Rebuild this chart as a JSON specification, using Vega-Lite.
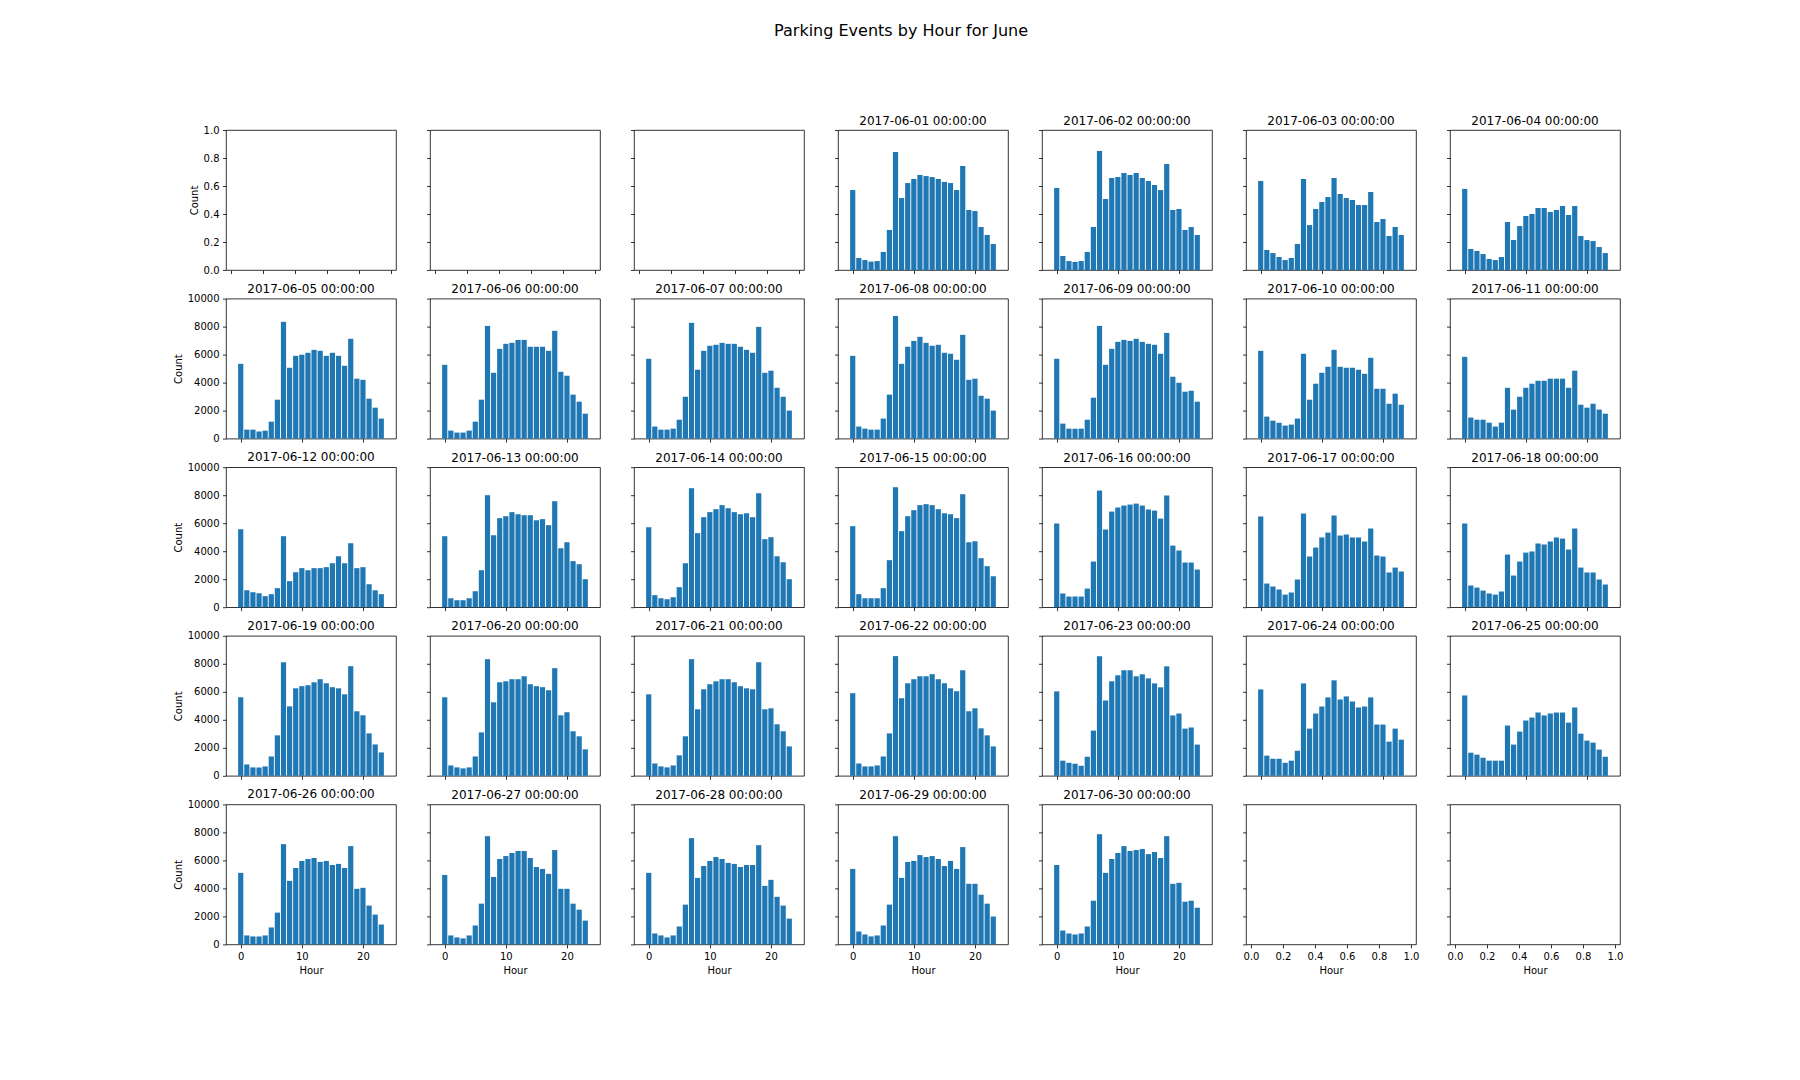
{
"$schema": "https://vega.github.io/schema/vega-lite/v6.json",
"background": "white",
"padding": {"left": 172, "top": 22, "right": 10, "bottom": 10},
"title": {"text": "Parking Events by Hour for June", "fontSize": 16, "font": "DejaVu Sans", "fontWeight": "normal", "color": "black", "anchor": "middle", "offset": 62.5, "baseline": "alphabetic", "dx": 3},
"datasets": {"parking": [
{"date":"2017-06-01","hour":0,"count":0.571},{"date":"2017-06-01","hour":1,"count":0.086},{"date":"2017-06-01","hour":2,"count":0.071},{"date":"2017-06-01","hour":3,"count":0.060},{"date":"2017-06-01","hour":4,"count":0.064},{"date":"2017-06-01","hour":5,"count":0.129},{"date":"2017-06-01","hour":6,"count":0.286},{"date":"2017-06-01","hour":7,"count":0.843},{"date":"2017-06-01","hour":8,"count":0.514},{"date":"2017-06-01","hour":9,"count":0.621},{"date":"2017-06-01","hour":10,"count":0.650},{"date":"2017-06-01","hour":11,"count":0.679},{"date":"2017-06-01","hour":12,"count":0.671},{"date":"2017-06-01","hour":13,"count":0.664},{"date":"2017-06-01","hour":14,"count":0.650},{"date":"2017-06-01","hour":15,"count":0.629},{"date":"2017-06-01","hour":16,"count":0.621},{"date":"2017-06-01","hour":17,"count":0.571},{"date":"2017-06-01","hour":18,"count":0.743},{"date":"2017-06-01","hour":19,"count":0.429},{"date":"2017-06-01","hour":20,"count":0.421},{"date":"2017-06-01","hour":21,"count":0.307},{"date":"2017-06-01","hour":22,"count":0.250},{"date":"2017-06-01","hour":23,"count":0.186},
{"date":"2017-06-02","hour":0,"count":0.586},{"date":"2017-06-02","hour":1,"count":0.100},{"date":"2017-06-02","hour":2,"count":0.064},{"date":"2017-06-02","hour":3,"count":0.057},{"date":"2017-06-02","hour":4,"count":0.064},{"date":"2017-06-02","hour":5,"count":0.129},{"date":"2017-06-02","hour":6,"count":0.307},{"date":"2017-06-02","hour":7,"count":0.850},{"date":"2017-06-02","hour":8,"count":0.507},{"date":"2017-06-02","hour":9,"count":0.657},{"date":"2017-06-02","hour":10,"count":0.664},{"date":"2017-06-02","hour":11,"count":0.693},{"date":"2017-06-02","hour":12,"count":0.679},{"date":"2017-06-02","hour":13,"count":0.693},{"date":"2017-06-02","hour":14,"count":0.657},{"date":"2017-06-02","hour":15,"count":0.636},{"date":"2017-06-02","hour":16,"count":0.607},{"date":"2017-06-02","hour":17,"count":0.571},{"date":"2017-06-02","hour":18,"count":0.757},{"date":"2017-06-02","hour":19,"count":0.429},{"date":"2017-06-02","hour":20,"count":0.436},{"date":"2017-06-02","hour":21,"count":0.286},{"date":"2017-06-02","hour":22,"count":0.307},{"date":"2017-06-02","hour":23,"count":0.250},
{"date":"2017-06-03","hour":0,"count":0.636},{"date":"2017-06-03","hour":1,"count":0.143},{"date":"2017-06-03","hour":2,"count":0.121},{"date":"2017-06-03","hour":3,"count":0.093},{"date":"2017-06-03","hour":4,"count":0.071},{"date":"2017-06-03","hour":5,"count":0.086},{"date":"2017-06-03","hour":6,"count":0.186},{"date":"2017-06-03","hour":7,"count":0.650},{"date":"2017-06-03","hour":8,"count":0.321},{"date":"2017-06-03","hour":9,"count":0.436},{"date":"2017-06-03","hour":10,"count":0.486},{"date":"2017-06-03","hour":11,"count":0.521},{"date":"2017-06-03","hour":12,"count":0.657},{"date":"2017-06-03","hour":13,"count":0.543},{"date":"2017-06-03","hour":14,"count":0.514},{"date":"2017-06-03","hour":15,"count":0.500},{"date":"2017-06-03","hour":16,"count":0.464},{"date":"2017-06-03","hour":17,"count":0.464},{"date":"2017-06-03","hour":18,"count":0.557},{"date":"2017-06-03","hour":19,"count":0.343},{"date":"2017-06-03","hour":20,"count":0.364},{"date":"2017-06-03","hour":21,"count":0.243},{"date":"2017-06-03","hour":22,"count":0.307},{"date":"2017-06-03","hour":23,"count":0.250},
{"date":"2017-06-04","hour":0,"count":0.579},{"date":"2017-06-04","hour":1,"count":0.150},{"date":"2017-06-04","hour":2,"count":0.136},{"date":"2017-06-04","hour":3,"count":0.114},{"date":"2017-06-04","hour":4,"count":0.079},{"date":"2017-06-04","hour":5,"count":0.071},{"date":"2017-06-04","hour":6,"count":0.093},{"date":"2017-06-04","hour":7,"count":0.343},{"date":"2017-06-04","hour":8,"count":0.214},{"date":"2017-06-04","hour":9,"count":0.314},{"date":"2017-06-04","hour":10,"count":0.386},{"date":"2017-06-04","hour":11,"count":0.400},{"date":"2017-06-04","hour":12,"count":0.443},{"date":"2017-06-04","hour":13,"count":0.443},{"date":"2017-06-04","hour":14,"count":0.414},{"date":"2017-06-04","hour":15,"count":0.429},{"date":"2017-06-04","hour":16,"count":0.457},{"date":"2017-06-04","hour":17,"count":0.393},{"date":"2017-06-04","hour":18,"count":0.457},{"date":"2017-06-04","hour":19,"count":0.243},{"date":"2017-06-04","hour":20,"count":0.214},{"date":"2017-06-04","hour":21,"count":0.207},{"date":"2017-06-04","hour":22,"count":0.164},{"date":"2017-06-04","hour":23,"count":0.121},
{"date":"2017-06-05","hour":0,"count":5340},{"date":"2017-06-05","hour":1,"count":640},{"date":"2017-06-05","hour":2,"count":640},{"date":"2017-06-05","hour":3,"count":500},{"date":"2017-06-05","hour":4,"count":570},{"date":"2017-06-05","hour":5,"count":1210},{"date":"2017-06-05","hour":6,"count":2780},{"date":"2017-06-05","hour":7,"count":8340},{"date":"2017-06-05","hour":8,"count":5060},{"date":"2017-06-05","hour":9,"count":5910},{"date":"2017-06-05","hour":10,"count":5990},{"date":"2017-06-05","hour":11,"count":6130},{"date":"2017-06-05","hour":12,"count":6340},{"date":"2017-06-05","hour":13,"count":6270},{"date":"2017-06-05","hour":14,"count":5910},{"date":"2017-06-05","hour":15,"count":6130},{"date":"2017-06-05","hour":16,"count":5910},{"date":"2017-06-05","hour":17,"count":5200},{"date":"2017-06-05","hour":18,"count":7130},{"date":"2017-06-05","hour":19,"count":4280},{"date":"2017-06-05","hour":20,"count":4200},{"date":"2017-06-05","hour":21,"count":2850},{"date":"2017-06-05","hour":22,"count":2210},{"date":"2017-06-05","hour":23,"count":1430},
{"date":"2017-06-06","hour":0,"count":5270},{"date":"2017-06-06","hour":1,"count":570},{"date":"2017-06-06","hour":2,"count":430},{"date":"2017-06-06","hour":3,"count":430},{"date":"2017-06-06","hour":4,"count":570},{"date":"2017-06-06","hour":5,"count":1210},{"date":"2017-06-06","hour":6,"count":2780},{"date":"2017-06-06","hour":7,"count":8050},{"date":"2017-06-06","hour":8,"count":4700},{"date":"2017-06-06","hour":9,"count":6410},{"date":"2017-06-06","hour":10,"count":6770},{"date":"2017-06-06","hour":11,"count":6840},{"date":"2017-06-06","hour":12,"count":7050},{"date":"2017-06-06","hour":13,"count":7050},{"date":"2017-06-06","hour":14,"count":6560},{"date":"2017-06-06","hour":15,"count":6560},{"date":"2017-06-06","hour":16,"count":6560},{"date":"2017-06-06","hour":17,"count":6270},{"date":"2017-06-06","hour":18,"count":7700},{"date":"2017-06-06","hour":19,"count":4770},{"date":"2017-06-06","hour":20,"count":4490},{"date":"2017-06-06","hour":21,"count":3140},{"date":"2017-06-06","hour":22,"count":2640},{"date":"2017-06-06","hour":23,"count":1780},
{"date":"2017-06-07","hour":0,"count":5700},{"date":"2017-06-07","hour":1,"count":860},{"date":"2017-06-07","hour":2,"count":640},{"date":"2017-06-07","hour":3,"count":640},{"date":"2017-06-07","hour":4,"count":710},{"date":"2017-06-07","hour":5,"count":1350},{"date":"2017-06-07","hour":6,"count":2990},{"date":"2017-06-07","hour":7,"count":8270},{"date":"2017-06-07","hour":8,"count":4920},{"date":"2017-06-07","hour":9,"count":6270},{"date":"2017-06-07","hour":10,"count":6630},{"date":"2017-06-07","hour":11,"count":6700},{"date":"2017-06-07","hour":12,"count":6840},{"date":"2017-06-07","hour":13,"count":6770},{"date":"2017-06-07","hour":14,"count":6770},{"date":"2017-06-07","hour":15,"count":6560},{"date":"2017-06-07","hour":16,"count":6340},{"date":"2017-06-07","hour":17,"count":6130},{"date":"2017-06-07","hour":18,"count":7980},{"date":"2017-06-07","hour":19,"count":4700},{"date":"2017-06-07","hour":20,"count":4850},{"date":"2017-06-07","hour":21,"count":3630},{"date":"2017-06-07","hour":22,"count":2990},{"date":"2017-06-07","hour":23,"count":2000},
{"date":"2017-06-08","hour":0,"count":5910},{"date":"2017-06-08","hour":1,"count":860},{"date":"2017-06-08","hour":2,"count":710},{"date":"2017-06-08","hour":3,"count":640},{"date":"2017-06-08","hour":4,"count":640},{"date":"2017-06-08","hour":5,"count":1430},{"date":"2017-06-08","hour":6,"count":3140},{"date":"2017-06-08","hour":7,"count":8760},{"date":"2017-06-08","hour":8,"count":5340},{"date":"2017-06-08","hour":9,"count":6560},{"date":"2017-06-08","hour":10,"count":6980},{"date":"2017-06-08","hour":11,"count":7270},{"date":"2017-06-08","hour":12,"count":6840},{"date":"2017-06-08","hour":13,"count":6630},{"date":"2017-06-08","hour":14,"count":6700},{"date":"2017-06-08","hour":15,"count":6130},{"date":"2017-06-08","hour":16,"count":6060},{"date":"2017-06-08","hour":17,"count":5630},{"date":"2017-06-08","hour":18,"count":7410},{"date":"2017-06-08","hour":19,"count":4200},{"date":"2017-06-08","hour":20,"count":4280},{"date":"2017-06-08","hour":21,"count":3060},{"date":"2017-06-08","hour":22,"count":2850},{"date":"2017-06-08","hour":23,"count":2000},
{"date":"2017-06-09","hour":0,"count":5700},{"date":"2017-06-09","hour":1,"count":1070},{"date":"2017-06-09","hour":2,"count":710},{"date":"2017-06-09","hour":3,"count":710},{"date":"2017-06-09","hour":4,"count":710},{"date":"2017-06-09","hour":5,"count":1350},{"date":"2017-06-09","hour":6,"count":2920},{"date":"2017-06-09","hour":7,"count":8050},{"date":"2017-06-09","hour":8,"count":5270},{"date":"2017-06-09","hour":9,"count":6410},{"date":"2017-06-09","hour":10,"count":6910},{"date":"2017-06-09","hour":11,"count":7050},{"date":"2017-06-09","hour":12,"count":6980},{"date":"2017-06-09","hour":13,"count":7130},{"date":"2017-06-09","hour":14,"count":6910},{"date":"2017-06-09","hour":15,"count":6770},{"date":"2017-06-09","hour":16,"count":6700},{"date":"2017-06-09","hour":17,"count":6060},{"date":"2017-06-09","hour":18,"count":7550},{"date":"2017-06-09","hour":19,"count":4420},{"date":"2017-06-09","hour":20,"count":3990},{"date":"2017-06-09","hour":21,"count":3350},{"date":"2017-06-09","hour":22,"count":3420},{"date":"2017-06-09","hour":23,"count":2640},
{"date":"2017-06-10","hour":0,"count":6270},{"date":"2017-06-10","hour":1,"count":1570},{"date":"2017-06-10","hour":2,"count":1280},{"date":"2017-06-10","hour":3,"count":1140},{"date":"2017-06-10","hour":4,"count":930},{"date":"2017-06-10","hour":5,"count":1000},{"date":"2017-06-10","hour":6,"count":1430},{"date":"2017-06-10","hour":7,"count":6060},{"date":"2017-06-10","hour":8,"count":2780},{"date":"2017-06-10","hour":9,"count":3920},{"date":"2017-06-10","hour":10,"count":4700},{"date":"2017-06-10","hour":11,"count":5130},{"date":"2017-06-10","hour":12,"count":6340},{"date":"2017-06-10","hour":13,"count":5130},{"date":"2017-06-10","hour":14,"count":5060},{"date":"2017-06-10","hour":15,"count":5060},{"date":"2017-06-10","hour":16,"count":4920},{"date":"2017-06-10","hour":17,"count":4630},{"date":"2017-06-10","hour":18,"count":5770},{"date":"2017-06-10","hour":19,"count":3560},{"date":"2017-06-10","hour":20,"count":3560},{"date":"2017-06-10","hour":21,"count":2490},{"date":"2017-06-10","hour":22,"count":3210},{"date":"2017-06-10","hour":23,"count":2420},
{"date":"2017-06-11","hour":0,"count":5840},{"date":"2017-06-11","hour":1,"count":1500},{"date":"2017-06-11","hour":2,"count":1350},{"date":"2017-06-11","hour":3,"count":1350},{"date":"2017-06-11","hour":4,"count":1140},{"date":"2017-06-11","hour":5,"count":860},{"date":"2017-06-11","hour":6,"count":1140},{"date":"2017-06-11","hour":7,"count":3630},{"date":"2017-06-11","hour":8,"count":2070},{"date":"2017-06-11","hour":9,"count":2990},{"date":"2017-06-11","hour":10,"count":3630},{"date":"2017-06-11","hour":11,"count":3920},{"date":"2017-06-11","hour":12,"count":4130},{"date":"2017-06-11","hour":13,"count":4130},{"date":"2017-06-11","hour":14,"count":4280},{"date":"2017-06-11","hour":15,"count":4280},{"date":"2017-06-11","hour":16,"count":4280},{"date":"2017-06-11","hour":17,"count":3630},{"date":"2017-06-11","hour":18,"count":4850},{"date":"2017-06-11","hour":19,"count":2420},{"date":"2017-06-11","hour":20,"count":2210},{"date":"2017-06-11","hour":21,"count":2490},{"date":"2017-06-11","hour":22,"count":2070},{"date":"2017-06-11","hour":23,"count":1780},
{"date":"2017-06-12","hour":0,"count":5570},{"date":"2017-06-12","hour":1,"count":1210},{"date":"2017-06-12","hour":2,"count":1070},{"date":"2017-06-12","hour":3,"count":1000},{"date":"2017-06-12","hour":4,"count":790},{"date":"2017-06-12","hour":5,"count":930},{"date":"2017-06-12","hour":6,"count":1360},{"date":"2017-06-12","hour":7,"count":5070},{"date":"2017-06-12","hour":8,"count":1860},{"date":"2017-06-12","hour":9,"count":2500},{"date":"2017-06-12","hour":10,"count":2790},{"date":"2017-06-12","hour":11,"count":2640},{"date":"2017-06-12","hour":12,"count":2790},{"date":"2017-06-12","hour":13,"count":2790},{"date":"2017-06-12","hour":14,"count":2860},{"date":"2017-06-12","hour":15,"count":3140},{"date":"2017-06-12","hour":16,"count":3640},{"date":"2017-06-12","hour":17,"count":3140},{"date":"2017-06-12","hour":18,"count":4570},{"date":"2017-06-12","hour":19,"count":2790},{"date":"2017-06-12","hour":20,"count":2860},{"date":"2017-06-12","hour":21,"count":1640},{"date":"2017-06-12","hour":22,"count":1210},{"date":"2017-06-12","hour":23,"count":930},
{"date":"2017-06-13","hour":0,"count":5070},{"date":"2017-06-13","hour":1,"count":640},{"date":"2017-06-13","hour":2,"count":500},{"date":"2017-06-13","hour":3,"count":500},{"date":"2017-06-13","hour":4,"count":640},{"date":"2017-06-13","hour":5,"count":1140},{"date":"2017-06-13","hour":6,"count":2640},{"date":"2017-06-13","hour":7,"count":8000},{"date":"2017-06-13","hour":8,"count":5140},{"date":"2017-06-13","hour":9,"count":6360},{"date":"2017-06-13","hour":10,"count":6500},{"date":"2017-06-13","hour":11,"count":6790},{"date":"2017-06-13","hour":12,"count":6640},{"date":"2017-06-13","hour":13,"count":6570},{"date":"2017-06-13","hour":14,"count":6570},{"date":"2017-06-13","hour":15,"count":6210},{"date":"2017-06-13","hour":16,"count":6290},{"date":"2017-06-13","hour":17,"count":5860},{"date":"2017-06-13","hour":18,"count":7570},{"date":"2017-06-13","hour":19,"count":4210},{"date":"2017-06-13","hour":20,"count":4640},{"date":"2017-06-13","hour":21,"count":3290},{"date":"2017-06-13","hour":22,"count":3070},{"date":"2017-06-13","hour":23,"count":2000},
{"date":"2017-06-14","hour":0,"count":5710},{"date":"2017-06-14","hour":1,"count":860},{"date":"2017-06-14","hour":2,"count":640},{"date":"2017-06-14","hour":3,"count":570},{"date":"2017-06-14","hour":4,"count":710},{"date":"2017-06-14","hour":5,"count":1430},{"date":"2017-06-14","hour":6,"count":3140},{"date":"2017-06-14","hour":7,"count":8500},{"date":"2017-06-14","hour":8,"count":5290},{"date":"2017-06-14","hour":9,"count":6430},{"date":"2017-06-14","hour":10,"count":6790},{"date":"2017-06-14","hour":11,"count":7000},{"date":"2017-06-14","hour":12,"count":7290},{"date":"2017-06-14","hour":13,"count":7070},{"date":"2017-06-14","hour":14,"count":6790},{"date":"2017-06-14","hour":15,"count":6640},{"date":"2017-06-14","hour":16,"count":6710},{"date":"2017-06-14","hour":17,"count":6430},{"date":"2017-06-14","hour":18,"count":8140},{"date":"2017-06-14","hour":19,"count":4860},{"date":"2017-06-14","hour":20,"count":5000},{"date":"2017-06-14","hour":21,"count":3640},{"date":"2017-06-14","hour":22,"count":3210},{"date":"2017-06-14","hour":23,"count":2000},
{"date":"2017-06-15","hour":0,"count":5790},{"date":"2017-06-15","hour":1,"count":930},{"date":"2017-06-15","hour":2,"count":640},{"date":"2017-06-15","hour":3,"count":640},{"date":"2017-06-15","hour":4,"count":640},{"date":"2017-06-15","hour":5,"count":1360},{"date":"2017-06-15","hour":6,"count":3360},{"date":"2017-06-15","hour":7,"count":8570},{"date":"2017-06-15","hour":8,"count":5430},{"date":"2017-06-15","hour":9,"count":6500},{"date":"2017-06-15","hour":10,"count":6930},{"date":"2017-06-15","hour":11,"count":7290},{"date":"2017-06-15","hour":12,"count":7360},{"date":"2017-06-15","hour":13,"count":7290},{"date":"2017-06-15","hour":14,"count":7000},{"date":"2017-06-15","hour":15,"count":6710},{"date":"2017-06-15","hour":16,"count":6640},{"date":"2017-06-15","hour":17,"count":6360},{"date":"2017-06-15","hour":18,"count":8070},{"date":"2017-06-15","hour":19,"count":4640},{"date":"2017-06-15","hour":20,"count":4710},{"date":"2017-06-15","hour":21,"count":3500},{"date":"2017-06-15","hour":22,"count":2930},{"date":"2017-06-15","hour":23,"count":2210},
{"date":"2017-06-16","hour":0,"count":5980},{"date":"2017-06-16","hour":1,"count":980},{"date":"2017-06-16","hour":2,"count":760},{"date":"2017-06-16","hour":3,"count":760},{"date":"2017-06-16","hour":4,"count":760},{"date":"2017-06-16","hour":5,"count":1330},{"date":"2017-06-16","hour":6,"count":3260},{"date":"2017-06-16","hour":7,"count":8330},{"date":"2017-06-16","hour":8,"count":5550},{"date":"2017-06-16","hour":9,"count":6830},{"date":"2017-06-16","hour":10,"count":7120},{"date":"2017-06-16","hour":11,"count":7260},{"date":"2017-06-16","hour":12,"count":7330},{"date":"2017-06-16","hour":13,"count":7400},{"date":"2017-06-16","hour":14,"count":7260},{"date":"2017-06-16","hour":15,"count":6980},{"date":"2017-06-16","hour":16,"count":6900},{"date":"2017-06-16","hour":17,"count":6330},{"date":"2017-06-16","hour":18,"count":7980},{"date":"2017-06-16","hour":19,"count":4400},{"date":"2017-06-16","hour":20,"count":4050},{"date":"2017-06-16","hour":21,"count":3190},{"date":"2017-06-16","hour":22,"count":3190},{"date":"2017-06-16","hour":23,"count":2690},
{"date":"2017-06-17","hour":0,"count":6480},{"date":"2017-06-17","hour":1,"count":1690},{"date":"2017-06-17","hour":2,"count":1480},{"date":"2017-06-17","hour":3,"count":1260},{"date":"2017-06-17","hour":4,"count":900},{"date":"2017-06-17","hour":5,"count":1050},{"date":"2017-06-17","hour":6,"count":1980},{"date":"2017-06-17","hour":7,"count":6690},{"date":"2017-06-17","hour":8,"count":3620},{"date":"2017-06-17","hour":9,"count":4260},{"date":"2017-06-17","hour":10,"count":4980},{"date":"2017-06-17","hour":11,"count":5330},{"date":"2017-06-17","hour":12,"count":6550},{"date":"2017-06-17","hour":13,"count":5120},{"date":"2017-06-17","hour":14,"count":5190},{"date":"2017-06-17","hour":15,"count":4980},{"date":"2017-06-17","hour":16,"count":4980},{"date":"2017-06-17","hour":17,"count":4690},{"date":"2017-06-17","hour":18,"count":5620},{"date":"2017-06-17","hour":19,"count":3690},{"date":"2017-06-17","hour":20,"count":3620},{"date":"2017-06-17","hour":21,"count":2480},{"date":"2017-06-17","hour":22,"count":2830},{"date":"2017-06-17","hour":23,"count":2550},
{"date":"2017-06-18","hour":0,"count":5980},{"date":"2017-06-18","hour":1,"count":1550},{"date":"2017-06-18","hour":2,"count":1400},{"date":"2017-06-18","hour":3,"count":1190},{"date":"2017-06-18","hour":4,"count":980},{"date":"2017-06-18","hour":5,"count":900},{"date":"2017-06-18","hour":6,"count":1120},{"date":"2017-06-18","hour":7,"count":3760},{"date":"2017-06-18","hour":8,"count":2260},{"date":"2017-06-18","hour":9,"count":3260},{"date":"2017-06-18","hour":10,"count":3900},{"date":"2017-06-18","hour":11,"count":3980},{"date":"2017-06-18","hour":12,"count":4550},{"date":"2017-06-18","hour":13,"count":4480},{"date":"2017-06-18","hour":14,"count":4690},{"date":"2017-06-18","hour":15,"count":4980},{"date":"2017-06-18","hour":16,"count":4900},{"date":"2017-06-18","hour":17,"count":4120},{"date":"2017-06-18","hour":18,"count":5620},{"date":"2017-06-18","hour":19,"count":2830},{"date":"2017-06-18","hour":20,"count":2480},{"date":"2017-06-18","hour":21,"count":2480},{"date":"2017-06-18","hour":22,"count":1980},{"date":"2017-06-18","hour":23,"count":1620},
{"date":"2017-06-19","hour":0,"count":5610},{"date":"2017-06-19","hour":1,"count":810},{"date":"2017-06-19","hour":2,"count":600},{"date":"2017-06-19","hour":3,"count":600},{"date":"2017-06-19","hour":4,"count":670},{"date":"2017-06-19","hour":5,"count":1380},{"date":"2017-06-19","hour":6,"count":2890},{"date":"2017-06-19","hour":7,"count":8110},{"date":"2017-06-19","hour":8,"count":4960},{"date":"2017-06-19","hour":9,"count":6250},{"date":"2017-06-19","hour":10,"count":6400},{"date":"2017-06-19","hour":11,"count":6470},{"date":"2017-06-19","hour":12,"count":6680},{"date":"2017-06-19","hour":13,"count":6900},{"date":"2017-06-19","hour":14,"count":6610},{"date":"2017-06-19","hour":15,"count":6330},{"date":"2017-06-19","hour":16,"count":6250},{"date":"2017-06-19","hour":17,"count":5820},{"date":"2017-06-19","hour":18,"count":7830},{"date":"2017-06-19","hour":19,"count":4610},{"date":"2017-06-19","hour":20,"count":4320},{"date":"2017-06-19","hour":21,"count":3030},{"date":"2017-06-19","hour":22,"count":2240},{"date":"2017-06-19","hour":23,"count":1670},
{"date":"2017-06-20","hour":0,"count":5610},{"date":"2017-06-20","hour":1,"count":740},{"date":"2017-06-20","hour":2,"count":600},{"date":"2017-06-20","hour":3,"count":530},{"date":"2017-06-20","hour":4,"count":600},{"date":"2017-06-20","hour":5,"count":1380},{"date":"2017-06-20","hour":6,"count":3100},{"date":"2017-06-20","hour":7,"count":8330},{"date":"2017-06-20","hour":8,"count":5250},{"date":"2017-06-20","hour":9,"count":6680},{"date":"2017-06-20","hour":10,"count":6750},{"date":"2017-06-20","hour":11,"count":6900},{"date":"2017-06-20","hour":12,"count":6900},{"date":"2017-06-20","hour":13,"count":7110},{"date":"2017-06-20","hour":14,"count":6540},{"date":"2017-06-20","hour":15,"count":6400},{"date":"2017-06-20","hour":16,"count":6330},{"date":"2017-06-20","hour":17,"count":6110},{"date":"2017-06-20","hour":18,"count":7690},{"date":"2017-06-20","hour":19,"count":4320},{"date":"2017-06-20","hour":20,"count":4540},{"date":"2017-06-20","hour":21,"count":3180},{"date":"2017-06-20","hour":22,"count":2820},{"date":"2017-06-20","hour":23,"count":1890},
{"date":"2017-06-21","hour":0,"count":5820},{"date":"2017-06-21","hour":1,"count":880},{"date":"2017-06-21","hour":2,"count":670},{"date":"2017-06-21","hour":3,"count":600},{"date":"2017-06-21","hour":4,"count":740},{"date":"2017-06-21","hour":5,"count":1460},{"date":"2017-06-21","hour":6,"count":2820},{"date":"2017-06-21","hour":7,"count":8330},{"date":"2017-06-21","hour":8,"count":4750},{"date":"2017-06-21","hour":9,"count":6180},{"date":"2017-06-21","hour":10,"count":6540},{"date":"2017-06-21","hour":11,"count":6750},{"date":"2017-06-21","hour":12,"count":6900},{"date":"2017-06-21","hour":13,"count":6900},{"date":"2017-06-21","hour":14,"count":6680},{"date":"2017-06-21","hour":15,"count":6400},{"date":"2017-06-21","hour":16,"count":6250},{"date":"2017-06-21","hour":17,"count":6180},{"date":"2017-06-21","hour":18,"count":8110},{"date":"2017-06-21","hour":19,"count":4750},{"date":"2017-06-21","hour":20,"count":4820},{"date":"2017-06-21","hour":21,"count":3680},{"date":"2017-06-21","hour":22,"count":3180},{"date":"2017-06-21","hour":23,"count":2100},
{"date":"2017-06-22","hour":0,"count":5900},{"date":"2017-06-22","hour":1,"count":880},{"date":"2017-06-22","hour":2,"count":670},{"date":"2017-06-22","hour":3,"count":670},{"date":"2017-06-22","hour":4,"count":740},{"date":"2017-06-22","hour":5,"count":1380},{"date":"2017-06-22","hour":6,"count":3030},{"date":"2017-06-22","hour":7,"count":8550},{"date":"2017-06-22","hour":8,"count":5540},{"date":"2017-06-22","hour":9,"count":6610},{"date":"2017-06-22","hour":10,"count":6900},{"date":"2017-06-22","hour":11,"count":7110},{"date":"2017-06-22","hour":12,"count":7110},{"date":"2017-06-22","hour":13,"count":7260},{"date":"2017-06-22","hour":14,"count":6900},{"date":"2017-06-22","hour":15,"count":6610},{"date":"2017-06-22","hour":16,"count":6250},{"date":"2017-06-22","hour":17,"count":6040},{"date":"2017-06-22","hour":18,"count":7540},{"date":"2017-06-22","hour":19,"count":4610},{"date":"2017-06-22","hour":20,"count":4820},{"date":"2017-06-22","hour":21,"count":3390},{"date":"2017-06-22","hour":22,"count":2890},{"date":"2017-06-22","hour":23,"count":2100},
{"date":"2017-06-23","hour":0,"count":6030},{"date":"2017-06-23","hour":1,"count":1080},{"date":"2017-06-23","hour":2,"count":930},{"date":"2017-06-23","hour":3,"count":860},{"date":"2017-06-23","hour":4,"count":720},{"date":"2017-06-23","hour":5,"count":1360},{"date":"2017-06-23","hour":6,"count":3230},{"date":"2017-06-23","hour":7,"count":8540},{"date":"2017-06-23","hour":8,"count":5380},{"date":"2017-06-23","hour":9,"count":6750},{"date":"2017-06-23","hour":10,"count":7180},{"date":"2017-06-23","hour":11,"count":7540},{"date":"2017-06-23","hour":12,"count":7540},{"date":"2017-06-23","hour":13,"count":7110},{"date":"2017-06-23","hour":14,"count":7250},{"date":"2017-06-23","hour":15,"count":6960},{"date":"2017-06-23","hour":16,"count":6600},{"date":"2017-06-23","hour":17,"count":6320},{"date":"2017-06-23","hour":18,"count":7820},{"date":"2017-06-23","hour":19,"count":4310},{"date":"2017-06-23","hour":20,"count":4450},{"date":"2017-06-23","hour":21,"count":3370},{"date":"2017-06-23","hour":22,"count":3450},{"date":"2017-06-23","hour":23,"count":2230},
{"date":"2017-06-24","hour":0,"count":6170},{"date":"2017-06-24","hour":1,"count":1440},{"date":"2017-06-24","hour":2,"count":1220},{"date":"2017-06-24","hour":3,"count":1220},{"date":"2017-06-24","hour":4,"count":930},{"date":"2017-06-24","hour":5,"count":1080},{"date":"2017-06-24","hour":6,"count":1790},{"date":"2017-06-24","hour":7,"count":6600},{"date":"2017-06-24","hour":8,"count":3370},{"date":"2017-06-24","hour":9,"count":4450},{"date":"2017-06-24","hour":10,"count":4950},{"date":"2017-06-24","hour":11,"count":5600},{"date":"2017-06-24","hour":12,"count":6820},{"date":"2017-06-24","hour":13,"count":5450},{"date":"2017-06-24","hour":14,"count":5670},{"date":"2017-06-24","hour":15,"count":5310},{"date":"2017-06-24","hour":16,"count":4880},{"date":"2017-06-24","hour":17,"count":4950},{"date":"2017-06-24","hour":18,"count":5600},{"date":"2017-06-24","hour":19,"count":3660},{"date":"2017-06-24","hour":20,"count":3660},{"date":"2017-06-24","hour":21,"count":2440},{"date":"2017-06-24","hour":22,"count":3370},{"date":"2017-06-24","hour":23,"count":2580},
{"date":"2017-06-25","hour":0,"count":5740},{"date":"2017-06-25","hour":1,"count":1650},{"date":"2017-06-25","hour":2,"count":1510},{"date":"2017-06-25","hour":3,"count":1290},{"date":"2017-06-25","hour":4,"count":1080},{"date":"2017-06-25","hour":5,"count":1080},{"date":"2017-06-25","hour":6,"count":1080},{"date":"2017-06-25","hour":7,"count":3590},{"date":"2017-06-25","hour":8,"count":2230},{"date":"2017-06-25","hour":9,"count":3160},{"date":"2017-06-25","hour":10,"count":3950},{"date":"2017-06-25","hour":11,"count":4160},{"date":"2017-06-25","hour":12,"count":4520},{"date":"2017-06-25","hour":13,"count":4310},{"date":"2017-06-25","hour":14,"count":4450},{"date":"2017-06-25","hour":15,"count":4520},{"date":"2017-06-25","hour":16,"count":4520},{"date":"2017-06-25","hour":17,"count":3800},{"date":"2017-06-25","hour":18,"count":4880},{"date":"2017-06-25","hour":19,"count":3010},{"date":"2017-06-25","hour":20,"count":2510},{"date":"2017-06-25","hour":21,"count":2370},{"date":"2017-06-25","hour":22,"count":1870},{"date":"2017-06-25","hour":23,"count":1360},
{"date":"2017-06-26","hour":0,"count":5110},{"date":"2017-06-26","hour":1,"count":640},{"date":"2017-06-26","hour":2,"count":570},{"date":"2017-06-26","hour":3,"count":570},{"date":"2017-06-26","hour":4,"count":640},{"date":"2017-06-26","hour":5,"count":1210},{"date":"2017-06-26","hour":6,"count":2270},{"date":"2017-06-26","hour":7,"count":7160},{"date":"2017-06-26","hour":8,"count":4540},{"date":"2017-06-26","hour":9,"count":5460},{"date":"2017-06-26","hour":10,"count":5960},{"date":"2017-06-26","hour":11,"count":6100},{"date":"2017-06-26","hour":12,"count":6170},{"date":"2017-06-26","hour":13,"count":5890},{"date":"2017-06-26","hour":14,"count":5960},{"date":"2017-06-26","hour":15,"count":5670},{"date":"2017-06-26","hour":16,"count":5750},{"date":"2017-06-26","hour":17,"count":5460},{"date":"2017-06-26","hour":18,"count":7020},{"date":"2017-06-26","hour":19,"count":3970},{"date":"2017-06-26","hour":20,"count":4040},{"date":"2017-06-26","hour":21,"count":2770},{"date":"2017-06-26","hour":22,"count":2130},{"date":"2017-06-26","hour":23,"count":1420},
{"date":"2017-06-27","hour":0,"count":4960},{"date":"2017-06-27","hour":1,"count":640},{"date":"2017-06-27","hour":2,"count":500},{"date":"2017-06-27","hour":3,"count":430},{"date":"2017-06-27","hour":4,"count":640},{"date":"2017-06-27","hour":5,"count":1350},{"date":"2017-06-27","hour":6,"count":2910},{"date":"2017-06-27","hour":7,"count":7730},{"date":"2017-06-27","hour":8,"count":4820},{"date":"2017-06-27","hour":9,"count":6100},{"date":"2017-06-27","hour":10,"count":6310},{"date":"2017-06-27","hour":11,"count":6530},{"date":"2017-06-27","hour":12,"count":6670},{"date":"2017-06-27","hour":13,"count":6670},{"date":"2017-06-27","hour":14,"count":6170},{"date":"2017-06-27","hour":15,"count":5530},{"date":"2017-06-27","hour":16,"count":5390},{"date":"2017-06-27","hour":17,"count":5040},{"date":"2017-06-27","hour":18,"count":6740},{"date":"2017-06-27","hour":19,"count":3970},{"date":"2017-06-27","hour":20,"count":3970},{"date":"2017-06-27","hour":21,"count":2910},{"date":"2017-06-27","hour":22,"count":2480},{"date":"2017-06-27","hour":23,"count":1700},
{"date":"2017-06-28","hour":0,"count":5110},{"date":"2017-06-28","hour":1,"count":780},{"date":"2017-06-28","hour":2,"count":640},{"date":"2017-06-28","hour":3,"count":500},{"date":"2017-06-28","hour":4,"count":640},{"date":"2017-06-28","hour":5,"count":1280},{"date":"2017-06-28","hour":6,"count":2840},{"date":"2017-06-28","hour":7,"count":7590},{"date":"2017-06-28","hour":8,"count":4750},{"date":"2017-06-28","hour":9,"count":5600},{"date":"2017-06-28","hour":10,"count":5960},{"date":"2017-06-28","hour":11,"count":6240},{"date":"2017-06-28","hour":12,"count":6100},{"date":"2017-06-28","hour":13,"count":5820},{"date":"2017-06-28","hour":14,"count":5750},{"date":"2017-06-28","hour":15,"count":5530},{"date":"2017-06-28","hour":16,"count":5670},{"date":"2017-06-28","hour":17,"count":5670},{"date":"2017-06-28","hour":18,"count":7090},{"date":"2017-06-28","hour":19,"count":4180},{"date":"2017-06-28","hour":20,"count":4610},{"date":"2017-06-28","hour":21,"count":3400},{"date":"2017-06-28","hour":22,"count":2770},{"date":"2017-06-28","hour":23,"count":1840},
{"date":"2017-06-29","hour":0,"count":5390},{"date":"2017-06-29","hour":1,"count":920},{"date":"2017-06-29","hour":2,"count":710},{"date":"2017-06-29","hour":3,"count":570},{"date":"2017-06-29","hour":4,"count":640},{"date":"2017-06-29","hour":5,"count":1350},{"date":"2017-06-29","hour":6,"count":2840},{"date":"2017-06-29","hour":7,"count":7730},{"date":"2017-06-29","hour":8,"count":4750},{"date":"2017-06-29","hour":9,"count":5890},{"date":"2017-06-29","hour":10,"count":5960},{"date":"2017-06-29","hour":11,"count":6380},{"date":"2017-06-29","hour":12,"count":6240},{"date":"2017-06-29","hour":13,"count":6310},{"date":"2017-06-29","hour":14,"count":6100},{"date":"2017-06-29","hour":15,"count":5600},{"date":"2017-06-29","hour":16,"count":5960},{"date":"2017-06-29","hour":17,"count":5390},{"date":"2017-06-29","hour":18,"count":6950},{"date":"2017-06-29","hour":19,"count":4330},{"date":"2017-06-29","hour":20,"count":4330},{"date":"2017-06-29","hour":21,"count":3550},{"date":"2017-06-29","hour":22,"count":2910},{"date":"2017-06-29","hour":23,"count":1990},
{"date":"2017-06-30","hour":0,"count":5670},{"date":"2017-06-30","hour":1,"count":990},{"date":"2017-06-30","hour":2,"count":780},{"date":"2017-06-30","hour":3,"count":710},{"date":"2017-06-30","hour":4,"count":780},{"date":"2017-06-30","hour":5,"count":1280},{"date":"2017-06-30","hour":6,"count":3120},{"date":"2017-06-30","hour":7,"count":7870},{"date":"2017-06-30","hour":8,"count":5110},{"date":"2017-06-30","hour":9,"count":6100},{"date":"2017-06-30","hour":10,"count":6530},{"date":"2017-06-30","hour":11,"count":7020},{"date":"2017-06-30","hour":12,"count":6670},{"date":"2017-06-30","hour":13,"count":6740},{"date":"2017-06-30","hour":14,"count":6810},{"date":"2017-06-30","hour":15,"count":6450},{"date":"2017-06-30","hour":16,"count":6600},{"date":"2017-06-30","hour":17,"count":6170},{"date":"2017-06-30","hour":18,"count":7730},{"date":"2017-06-30","hour":19,"count":4330},{"date":"2017-06-30","hour":20,"count":4400},{"date":"2017-06-30","hour":21,"count":3050},{"date":"2017-06-30","hour":22,"count":3120},{"date":"2017-06-30","hour":23,"count":2620}
]},
"data": {"name": "parking"},
"columns": 7,
"spacing": {"row": 28.6, "column": 34},
"bounds": "flush",
"concat": [
{"transform":[{"filter":"false"}],"mark":{"type":"bar"},"encoding":{"x":{"field":"hour","type":"quantitative","scale":{"domain":[0,1],"nice":false,"zero":false},"axis":{"values":[0,0.2,0.4,0.6,0.8,1],"labels":false,"title":null}},"y":{"field":"count","type":"quantitative","scale":{"domain":[0,1],"nice":false},"axis":{"values":[0,0.2,0.4,0.6,0.8,1],"format":".1f","title":"Count"}}}},
{"transform":[{"filter":"false"}],"mark":{"type":"bar"},"encoding":{"x":{"field":"hour","type":"quantitative","scale":{"domain":[0,1],"nice":false,"zero":false},"axis":{"values":[0,0.2,0.4,0.6,0.8,1],"labels":false,"title":null}},"y":{"field":"count","type":"quantitative","scale":{"domain":[0,1],"nice":false},"axis":{"values":[0,0.2,0.4,0.6,0.8,1],"labels":false,"title":null}}}},
{"transform":[{"filter":"false"}],"mark":{"type":"bar"},"encoding":{"x":{"field":"hour","type":"quantitative","scale":{"domain":[0,1],"nice":false,"zero":false},"axis":{"values":[0,0.2,0.4,0.6,0.8,1],"labels":false,"title":null}},"y":{"field":"count","type":"quantitative","scale":{"domain":[0,1],"nice":false},"axis":{"values":[0,0.2,0.4,0.6,0.8,1],"labels":false,"title":null}}}},
{"title":"2017-06-01 00:00:00","transform":[{"filter":"datum.date=='2017-06-01'"}],"mark":{"type":"bar","size":5.2},"encoding":{"x":{"field":"hour","type":"quantitative","scale":{"domain":[-1.59,24.59],"nice":false,"zero":false},"axis":{"values":[0,10,20],"labels":false,"title":null}},"y":{"field":"count","type":"quantitative","scale":{"domain":[0,1],"nice":false},"axis":{"values":[0,0.2,0.4,0.6,0.8,1],"labels":false,"title":null}}}},
{"title":"2017-06-02 00:00:00","transform":[{"filter":"datum.date=='2017-06-02'"}],"mark":{"type":"bar","size":5.2},"encoding":{"x":{"field":"hour","type":"quantitative","scale":{"domain":[-1.59,24.59],"nice":false,"zero":false},"axis":{"values":[0,10,20],"labels":false,"title":null}},"y":{"field":"count","type":"quantitative","scale":{"domain":[0,1],"nice":false},"axis":{"values":[0,0.2,0.4,0.6,0.8,1],"labels":false,"title":null}}}},
{"title":"2017-06-03 00:00:00","transform":[{"filter":"datum.date=='2017-06-03'"}],"mark":{"type":"bar","size":5.2},"encoding":{"x":{"field":"hour","type":"quantitative","scale":{"domain":[-1.59,24.59],"nice":false,"zero":false},"axis":{"values":[0,10,20],"labels":false,"title":null}},"y":{"field":"count","type":"quantitative","scale":{"domain":[0,1],"nice":false},"axis":{"values":[0,0.2,0.4,0.6,0.8,1],"labels":false,"title":null}}}},
{"title":"2017-06-04 00:00:00","transform":[{"filter":"datum.date=='2017-06-04'"}],"mark":{"type":"bar","size":5.2},"encoding":{"x":{"field":"hour","type":"quantitative","scale":{"domain":[-1.59,24.59],"nice":false,"zero":false},"axis":{"values":[0,10,20],"labels":false,"title":null}},"y":{"field":"count","type":"quantitative","scale":{"domain":[0,1],"nice":false},"axis":{"values":[0,0.2,0.4,0.6,0.8,1],"labels":false,"title":null}}}},
{"title":{"text":"2017-06-05 00:00:00","offset":-2},"transform":[{"filter":"datum.date=='2017-06-05'"}],"mark":{"type":"bar","size":5.2},"encoding":{"x":{"field":"hour","type":"quantitative","scale":{"domain":[-1.59,24.59],"nice":false,"zero":false},"axis":{"values":[0,10,20],"labels":false,"title":null}},"y":{"field":"count","type":"quantitative","scale":{"domain":[0,10000],"nice":false},"axis":{"values":[0,2000,4000,6000,8000,10000],"format":"d","title":"Count"}}}},
{"title":"2017-06-06 00:00:00","transform":[{"filter":"datum.date=='2017-06-06'"}],"mark":{"type":"bar","size":5.2},"encoding":{"x":{"field":"hour","type":"quantitative","scale":{"domain":[-1.59,24.59],"nice":false,"zero":false},"axis":{"values":[0,10,20],"labels":false,"title":null}},"y":{"field":"count","type":"quantitative","scale":{"domain":[0,10000],"nice":false},"axis":{"values":[0,2000,4000,6000,8000,10000],"labels":false,"title":null}}}},
{"title":"2017-06-07 00:00:00","transform":[{"filter":"datum.date=='2017-06-07'"}],"mark":{"type":"bar","size":5.2},"encoding":{"x":{"field":"hour","type":"quantitative","scale":{"domain":[-1.59,24.59],"nice":false,"zero":false},"axis":{"values":[0,10,20],"labels":false,"title":null}},"y":{"field":"count","type":"quantitative","scale":{"domain":[0,10000],"nice":false},"axis":{"values":[0,2000,4000,6000,8000,10000],"labels":false,"title":null}}}},
{"title":"2017-06-08 00:00:00","transform":[{"filter":"datum.date=='2017-06-08'"}],"mark":{"type":"bar","size":5.2},"encoding":{"x":{"field":"hour","type":"quantitative","scale":{"domain":[-1.59,24.59],"nice":false,"zero":false},"axis":{"values":[0,10,20],"labels":false,"title":null}},"y":{"field":"count","type":"quantitative","scale":{"domain":[0,10000],"nice":false},"axis":{"values":[0,2000,4000,6000,8000,10000],"labels":false,"title":null}}}},
{"title":"2017-06-09 00:00:00","transform":[{"filter":"datum.date=='2017-06-09'"}],"mark":{"type":"bar","size":5.2},"encoding":{"x":{"field":"hour","type":"quantitative","scale":{"domain":[-1.59,24.59],"nice":false,"zero":false},"axis":{"values":[0,10,20],"labels":false,"title":null}},"y":{"field":"count","type":"quantitative","scale":{"domain":[0,10000],"nice":false},"axis":{"values":[0,2000,4000,6000,8000,10000],"labels":false,"title":null}}}},
{"title":"2017-06-10 00:00:00","transform":[{"filter":"datum.date=='2017-06-10'"}],"mark":{"type":"bar","size":5.2},"encoding":{"x":{"field":"hour","type":"quantitative","scale":{"domain":[-1.59,24.59],"nice":false,"zero":false},"axis":{"values":[0,10,20],"labels":false,"title":null}},"y":{"field":"count","type":"quantitative","scale":{"domain":[0,10000],"nice":false},"axis":{"values":[0,2000,4000,6000,8000,10000],"labels":false,"title":null}}}},
{"title":"2017-06-11 00:00:00","transform":[{"filter":"datum.date=='2017-06-11'"}],"mark":{"type":"bar","size":5.2},"encoding":{"x":{"field":"hour","type":"quantitative","scale":{"domain":[-1.59,24.59],"nice":false,"zero":false},"axis":{"values":[0,10,20],"labels":false,"title":null}},"y":{"field":"count","type":"quantitative","scale":{"domain":[0,10000],"nice":false},"axis":{"values":[0,2000,4000,6000,8000,10000],"labels":false,"title":null}}}},
{"title":{"text":"2017-06-12 00:00:00","offset":-2},"transform":[{"filter":"datum.date=='2017-06-12'"}],"mark":{"type":"bar","size":5.2},"encoding":{"x":{"field":"hour","type":"quantitative","scale":{"domain":[-1.59,24.59],"nice":false,"zero":false},"axis":{"values":[0,10,20],"labels":false,"title":null}},"y":{"field":"count","type":"quantitative","scale":{"domain":[0,10000],"nice":false},"axis":{"values":[0,2000,4000,6000,8000,10000],"format":"d","title":"Count"}}}},
{"title":"2017-06-13 00:00:00","transform":[{"filter":"datum.date=='2017-06-13'"}],"mark":{"type":"bar","size":5.2},"encoding":{"x":{"field":"hour","type":"quantitative","scale":{"domain":[-1.59,24.59],"nice":false,"zero":false},"axis":{"values":[0,10,20],"labels":false,"title":null}},"y":{"field":"count","type":"quantitative","scale":{"domain":[0,10000],"nice":false},"axis":{"values":[0,2000,4000,6000,8000,10000],"labels":false,"title":null}}}},
{"title":"2017-06-14 00:00:00","transform":[{"filter":"datum.date=='2017-06-14'"}],"mark":{"type":"bar","size":5.2},"encoding":{"x":{"field":"hour","type":"quantitative","scale":{"domain":[-1.59,24.59],"nice":false,"zero":false},"axis":{"values":[0,10,20],"labels":false,"title":null}},"y":{"field":"count","type":"quantitative","scale":{"domain":[0,10000],"nice":false},"axis":{"values":[0,2000,4000,6000,8000,10000],"labels":false,"title":null}}}},
{"title":"2017-06-15 00:00:00","transform":[{"filter":"datum.date=='2017-06-15'"}],"mark":{"type":"bar","size":5.2},"encoding":{"x":{"field":"hour","type":"quantitative","scale":{"domain":[-1.59,24.59],"nice":false,"zero":false},"axis":{"values":[0,10,20],"labels":false,"title":null}},"y":{"field":"count","type":"quantitative","scale":{"domain":[0,10000],"nice":false},"axis":{"values":[0,2000,4000,6000,8000,10000],"labels":false,"title":null}}}},
{"title":"2017-06-16 00:00:00","transform":[{"filter":"datum.date=='2017-06-16'"}],"mark":{"type":"bar","size":5.2},"encoding":{"x":{"field":"hour","type":"quantitative","scale":{"domain":[-1.59,24.59],"nice":false,"zero":false},"axis":{"values":[0,10,20],"labels":false,"title":null}},"y":{"field":"count","type":"quantitative","scale":{"domain":[0,10000],"nice":false},"axis":{"values":[0,2000,4000,6000,8000,10000],"labels":false,"title":null}}}},
{"title":"2017-06-17 00:00:00","transform":[{"filter":"datum.date=='2017-06-17'"}],"mark":{"type":"bar","size":5.2},"encoding":{"x":{"field":"hour","type":"quantitative","scale":{"domain":[-1.59,24.59],"nice":false,"zero":false},"axis":{"values":[0,10,20],"labels":false,"title":null}},"y":{"field":"count","type":"quantitative","scale":{"domain":[0,10000],"nice":false},"axis":{"values":[0,2000,4000,6000,8000,10000],"labels":false,"title":null}}}},
{"title":"2017-06-18 00:00:00","transform":[{"filter":"datum.date=='2017-06-18'"}],"mark":{"type":"bar","size":5.2},"encoding":{"x":{"field":"hour","type":"quantitative","scale":{"domain":[-1.59,24.59],"nice":false,"zero":false},"axis":{"values":[0,10,20],"labels":false,"title":null}},"y":{"field":"count","type":"quantitative","scale":{"domain":[0,10000],"nice":false},"axis":{"values":[0,2000,4000,6000,8000,10000],"labels":false,"title":null}}}},
{"title":{"text":"2017-06-19 00:00:00","offset":-2},"transform":[{"filter":"datum.date=='2017-06-19'"}],"mark":{"type":"bar","size":5.2},"encoding":{"x":{"field":"hour","type":"quantitative","scale":{"domain":[-1.59,24.59],"nice":false,"zero":false},"axis":{"values":[0,10,20],"labels":false,"title":null}},"y":{"field":"count","type":"quantitative","scale":{"domain":[0,10000],"nice":false},"axis":{"values":[0,2000,4000,6000,8000,10000],"format":"d","title":"Count"}}}},
{"title":"2017-06-20 00:00:00","transform":[{"filter":"datum.date=='2017-06-20'"}],"mark":{"type":"bar","size":5.2},"encoding":{"x":{"field":"hour","type":"quantitative","scale":{"domain":[-1.59,24.59],"nice":false,"zero":false},"axis":{"values":[0,10,20],"labels":false,"title":null}},"y":{"field":"count","type":"quantitative","scale":{"domain":[0,10000],"nice":false},"axis":{"values":[0,2000,4000,6000,8000,10000],"labels":false,"title":null}}}},
{"title":"2017-06-21 00:00:00","transform":[{"filter":"datum.date=='2017-06-21'"}],"mark":{"type":"bar","size":5.2},"encoding":{"x":{"field":"hour","type":"quantitative","scale":{"domain":[-1.59,24.59],"nice":false,"zero":false},"axis":{"values":[0,10,20],"labels":false,"title":null}},"y":{"field":"count","type":"quantitative","scale":{"domain":[0,10000],"nice":false},"axis":{"values":[0,2000,4000,6000,8000,10000],"labels":false,"title":null}}}},
{"title":"2017-06-22 00:00:00","transform":[{"filter":"datum.date=='2017-06-22'"}],"mark":{"type":"bar","size":5.2},"encoding":{"x":{"field":"hour","type":"quantitative","scale":{"domain":[-1.59,24.59],"nice":false,"zero":false},"axis":{"values":[0,10,20],"labels":false,"title":null}},"y":{"field":"count","type":"quantitative","scale":{"domain":[0,10000],"nice":false},"axis":{"values":[0,2000,4000,6000,8000,10000],"labels":false,"title":null}}}},
{"title":"2017-06-23 00:00:00","transform":[{"filter":"datum.date=='2017-06-23'"}],"mark":{"type":"bar","size":5.2},"encoding":{"x":{"field":"hour","type":"quantitative","scale":{"domain":[-1.59,24.59],"nice":false,"zero":false},"axis":{"values":[0,10,20],"labels":false,"title":null}},"y":{"field":"count","type":"quantitative","scale":{"domain":[0,10000],"nice":false},"axis":{"values":[0,2000,4000,6000,8000,10000],"labels":false,"title":null}}}},
{"title":"2017-06-24 00:00:00","transform":[{"filter":"datum.date=='2017-06-24'"}],"mark":{"type":"bar","size":5.2},"encoding":{"x":{"field":"hour","type":"quantitative","scale":{"domain":[-1.59,24.59],"nice":false,"zero":false},"axis":{"values":[0,10,20],"labels":false,"title":null}},"y":{"field":"count","type":"quantitative","scale":{"domain":[0,10000],"nice":false},"axis":{"values":[0,2000,4000,6000,8000,10000],"labels":false,"title":null}}}},
{"title":"2017-06-25 00:00:00","transform":[{"filter":"datum.date=='2017-06-25'"}],"mark":{"type":"bar","size":5.2},"encoding":{"x":{"field":"hour","type":"quantitative","scale":{"domain":[-1.59,24.59],"nice":false,"zero":false},"axis":{"values":[0,10,20],"labels":false,"title":null}},"y":{"field":"count","type":"quantitative","scale":{"domain":[0,10000],"nice":false},"axis":{"values":[0,2000,4000,6000,8000,10000],"labels":false,"title":null}}}},
{"title":{"text":"2017-06-26 00:00:00","offset":-2},"transform":[{"filter":"datum.date=='2017-06-26'"}],"mark":{"type":"bar","size":5.2},"encoding":{"x":{"field":"hour","type":"quantitative","scale":{"domain":[-1.59,24.59],"nice":false,"zero":false},"axis":{"values":[0,10,20],"format":"d","title":"Hour"}},"y":{"field":"count","type":"quantitative","scale":{"domain":[0,10000],"nice":false},"axis":{"values":[0,2000,4000,6000,8000,10000],"format":"d","title":"Count"}}}},
{"title":"2017-06-27 00:00:00","transform":[{"filter":"datum.date=='2017-06-27'"}],"mark":{"type":"bar","size":5.2},"encoding":{"x":{"field":"hour","type":"quantitative","scale":{"domain":[-1.59,24.59],"nice":false,"zero":false},"axis":{"values":[0,10,20],"format":"d","title":"Hour"}},"y":{"field":"count","type":"quantitative","scale":{"domain":[0,10000],"nice":false},"axis":{"values":[0,2000,4000,6000,8000,10000],"labels":false,"title":null}}}},
{"title":"2017-06-28 00:00:00","transform":[{"filter":"datum.date=='2017-06-28'"}],"mark":{"type":"bar","size":5.2},"encoding":{"x":{"field":"hour","type":"quantitative","scale":{"domain":[-1.59,24.59],"nice":false,"zero":false},"axis":{"values":[0,10,20],"format":"d","title":"Hour"}},"y":{"field":"count","type":"quantitative","scale":{"domain":[0,10000],"nice":false},"axis":{"values":[0,2000,4000,6000,8000,10000],"labels":false,"title":null}}}},
{"title":"2017-06-29 00:00:00","transform":[{"filter":"datum.date=='2017-06-29'"}],"mark":{"type":"bar","size":5.2},"encoding":{"x":{"field":"hour","type":"quantitative","scale":{"domain":[-1.59,24.59],"nice":false,"zero":false},"axis":{"values":[0,10,20],"format":"d","title":"Hour"}},"y":{"field":"count","type":"quantitative","scale":{"domain":[0,10000],"nice":false},"axis":{"values":[0,2000,4000,6000,8000,10000],"labels":false,"title":null}}}},
{"title":"2017-06-30 00:00:00","transform":[{"filter":"datum.date=='2017-06-30'"}],"mark":{"type":"bar","size":5.2},"encoding":{"x":{"field":"hour","type":"quantitative","scale":{"domain":[-1.59,24.59],"nice":false,"zero":false},"axis":{"values":[0,10,20],"format":"d","title":"Hour"}},"y":{"field":"count","type":"quantitative","scale":{"domain":[0,10000],"nice":false},"axis":{"values":[0,2000,4000,6000,8000,10000],"labels":false,"title":null}}}},
{"transform":[{"filter":"false"}],"mark":{"type":"bar"},"encoding":{"x":{"field":"hour","type":"quantitative","scale":{"domain":[0,1],"nice":false,"zero":false},"axis":{"values":[0,0.2,0.4,0.6,0.8,1],"format":".1f","title":"Hour"}},"y":{"field":"count","type":"quantitative","scale":{"domain":[0,10000],"nice":false},"axis":{"values":[0,2000,4000,6000,8000,10000],"labels":false,"title":null}}}},
{"transform":[{"filter":"false"}],"mark":{"type":"bar"},"encoding":{"x":{"field":"hour","type":"quantitative","scale":{"domain":[0,1],"nice":false,"zero":false},"axis":{"values":[0,0.2,0.4,0.6,0.8,1],"format":".1f","title":"Hour"}},"y":{"field":"count","type":"quantitative","scale":{"domain":[0,10000],"nice":false},"axis":{"values":[0,2000,4000,6000,8000,10000],"labels":false,"title":null}}}}
],
"config": {
"view": {"continuousWidth": 170, "continuousHeight": 140, "stroke": "black", "strokeWidth": 0.8},
"bar": {"color": "#1f77b4"},
"axis": {"domain": false, "grid": false, "ticks": true, "tickColor": "black", "tickSize": 3.5, "tickWidth": 0.8, "labelFont": "DejaVu Sans", "labelFontSize": 10, "labelColor": "black", "labelPadding": 3.5, "labelFlush": false, "labelOverlap": false, "titleFont": "DejaVu Sans", "titleFontSize": 10, "titleFontWeight": "normal", "titleColor": "black"},
"axisX": {"titlePadding": 4},
"axisY": {"titlePadding": 4},
"title": {"font": "DejaVu Sans", "fontSize": 12, "fontWeight": "normal", "color": "black", "offset": 2, "baseline": "alphabetic"}
}
}
